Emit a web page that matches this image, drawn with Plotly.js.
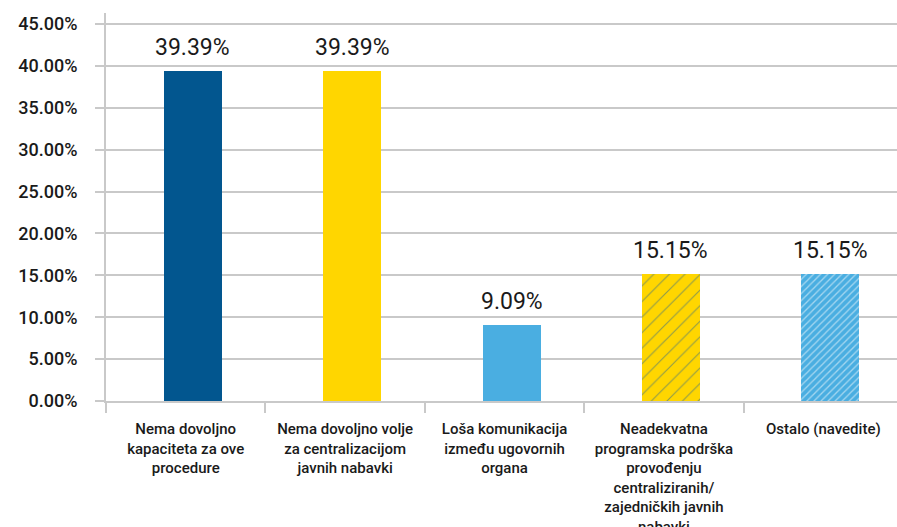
<!DOCTYPE html>
<html>
<head>
<meta charset="utf-8">
<script src="https://cdn.plot.ly/plotly-3.0.1.min.js"></script>
<style>html,body{margin:0;padding:0;background:#fff;}#chart{width:897px;height:527px;}</style>
</head>
<body>
<div id="chart"></div>
<script>
var categories = [
  "Nema dovoljno<br>kapaciteta za ove<br>procedure",
  "Nema dovoljno volje<br>za centralizacijom<br>javnih nabavki",
  "Loša komunikacija<br>između ugovornih<br>organa",
  "Neadekvatna<br>programska podrška<br>provođenju<br>centraliziranih/<br>zajedničkih javnih<br>nabavki",
  "Ostalo (navedite)"
];
var values = [39.39, 39.39, 9.09, 15.15, 15.15];
var barColors = ["#02568F", "#FFD600", "#4AAEE1", "#FFD600", "#4AAEE1"];
var patternShapes = ["", "", "", "/", "/"];
var patternColors = ["#02568F", "#FFD600", "#4AAEE1", "#1B5E98", "#FFFFFF"];
var patternSizes = [8, 8, 8, 11, 5];
var patternSolidity = [0.3, 0.3, 0.3, 0.1, 0.26];

var GRID = "#C9C9C9";
var traces = categories.map(function (c, i) {
  return {
    type: "bar",
    x: [c],
    y: [values[i]],
    width: 0.364,
    offset: -0.138,
    marker: {
      color: barColors[i],
      line: {width: 0},
      pattern: {
        shape: patternShapes[i],
        fgcolor: patternColors[i],
        bgcolor: barColors[i],
        size: patternSizes[i],
        solidity: patternSolidity[i],
        fillmode: "overlay"
      }
    },
    hoverinfo: "none"
  };
});

var annotations = categories.map(function (c, i) {
  return {
    x: c, y: values[i], xref: "x", yref: "y",
    text: values[i].toFixed(2) + "%",
    showarrow: false, yanchor: "bottom", xanchor: "center",
    xshift: 7, yshift: 8,
    font: {family: "Roboto", size: 23, color: "#1A1A1A"}
  };
});

var layout = {
  width: 897, height: 527,
  margin: {l: 106, r: 0, t: 13, b: 126, pad: 0},
  paper_bgcolor: "#FFFFFF", plot_bgcolor: "#FFFFFF",
  showlegend: false,
  barmode: "overlay",
  bargap: 0,
  xaxis: {
    type: "category",
    categoryorder: "array",
    categoryarray: categories,
    range: [-0.5, 4.462],
    tickson: "boundaries",
    ticks: "outside", ticklen: 10, tickwidth: 2, tickcolor: GRID,
    showline: true, linecolor: GRID, linewidth: 2,
    showgrid: false, zeroline: false,
    tickangle: 0,
    ticklabelstandoff: 13,
    tickfont: {family: "Roboto", size: 15, color: "#1A1A1A", weight: 500}
  },
  yaxis: {
    range: [0, 46.3],
    tickmode: "linear", tick0: 0, dtick: 5,
    tickformat: ".2f", ticksuffix: "%",
    ticks: "outside", ticklen: 9, tickwidth: 2, tickcolor: GRID,
    showline: true, linecolor: GRID, linewidth: 2,
    showgrid: true, gridcolor: GRID, gridwidth: 2,
    zeroline: false,
    ticklabelstandoff: 14,
    tickfont: {family: "Roboto", size: 18, color: "#1A1A1A", weight: 500}
  },
  annotations: annotations
};

Plotly.newPlot("chart", traces, layout, {staticPlot: true, displayModeBar: false});
</script>
</body>
</html>
